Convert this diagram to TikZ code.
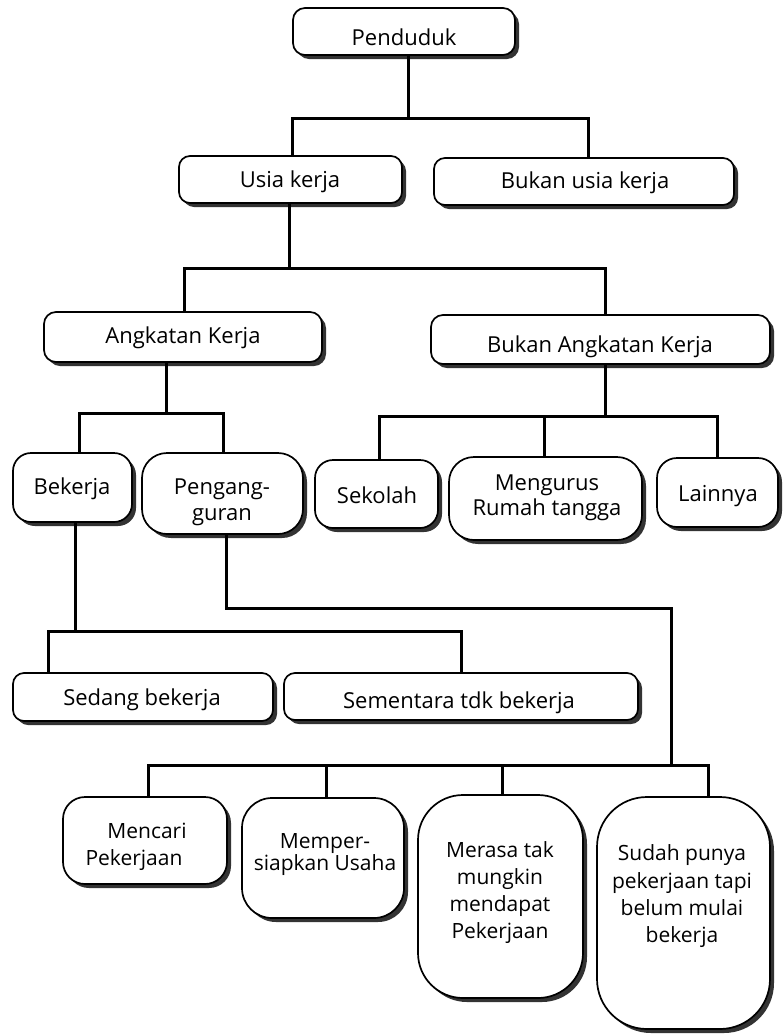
\documentclass[tikz,border=0pt]{standalone}
\usepackage{fontspec}
\setmainfont{Open Sans}
\usetikzlibrary{shadows}
\begin{document}
\begin{tikzpicture}[x=1pt,y=-1pt,
  box/.style={draw=black, line width=1.7pt, fill=white, rounded corners=#1, inner sep=0pt, outer sep=0pt,
    drop shadow={shadow xshift=4pt, shadow yshift=-4pt, opacity=1, fill=black!80}},
  box/.default=12pt,
  conn/.style={line width=3pt, line join=miter},
  txt/.style={anchor=base, inner sep=0pt, font=\fontsize{22}{26}\selectfont},
  stxt/.style={anchor=base, inner sep=0pt, font=\fontsize{21}{26}\selectfont},
]
\fill[white] (0,0) rectangle (783,1034);
\useasboundingbox (0,0) rectangle (783,1034);

% boxes
\node[box=12pt, minimum width=222pt, minimum height=47pt] (pend) at (404,31.5) {};
\node[box=11pt, minimum width=223pt, minimum height=47pt] (usia) at (290.5,179.5) {};
\node[box=11pt, minimum width=300pt, minimum height=47pt] (bukanusia) at (584,181.5) {};
\node[box=12pt, minimum width=278pt, minimum height=50pt] (ak) at (183,337) {};
\node[box=12pt, minimum width=339pt, minimum height=49pt] (bak) at (600.5,339.5) {};
\node[box=18pt, minimum width=119pt, minimum height=69pt] (bekerja) at (72.5,487.5) {};
\node[box=25pt, minimum width=161pt, minimum height=81pt] (peng) at (222.5,493.5) {};
\node[box=18pt, minimum width=123pt, minimum height=68pt] (sekolah) at (376.5,494) {};
\node[box=25pt, minimum width=193pt, minimum height=83pt] (mengurus) at (545.5,498.5) {};
\node[box=20pt, minimum width=121pt, minimum height=69pt] (lainnya) at (717.5,492.5) {};
\node[box=11pt, minimum width=260pt, minimum height=48pt] (sedang) at (143,697) {};
\node[box=11pt, minimum width=354pt, minimum height=47pt] (sementara) at (461,696.5) {};
\node[box=22pt, minimum width=164pt, minimum height=87pt] (mencari) at (145,840.5) {};
\node[box=30pt, minimum width=162pt, minimum height=120pt] (memper) at (323,858) {};
\node[box=45pt, minimum width=165pt, minimum height=203pt] (merasa) at (500.5,896.5) {};
\node[box=50pt, minimum width=173pt, minimum height=232pt] (sudah) at (683.5,913) {};

% texts
\node[txt] (tpend) at (404,45) {Penduduk};
\node[txt] (tusia) at (290,187) {Usia kerja};
\node[txt] (tbusia) at (585,188) {Bukan usia kerja};
\node[txt] (tak) at (183,343) {Angkatan Kerja};
\node[txt] (tbak) at (600,352) {Bukan Angkatan Kerja};
\node[txt] (tbek) at (72,494) {Bekerja};
\node[txt] (tpeng1) at (222,494) {Pengang-};
\node[txt] (tpeng2) at (222,520) {guran};
\node[txt] (tsek) at (377,503) {Sekolah};
\node[txt] (tmeng1) at (547,490) {Mengurus};
\node[txt] (tmeng2) at (547,515) {Rumah tangga};
\node[txt] (tlain) at (718,501) {Lainnya};
\node[txt] (tsed) at (142,705) {Sedang bekerja};
\node[txt] (tsem) at (459,708) {Sementara tdk bekerja};
\node[stxt] (tmc1) at (147,838) {Mencari};
\node[stxt] (tmc2) at (134,865) {Pekerjaan};
\node[stxt] (tmp1) at (325,848) {Memper-};
\node[stxt] (tmp2) at (325,870) {siapkan Usaha};
\node[stxt] (tmr1) at (500,857) {Merasa tak};
\node[stxt] (tmr2) at (500,884) {mungkin};
\node[stxt] (tmr3) at (500,911) {mendapat};
\node[stxt] (tmr4) at (500,938) {Pekerjaan};
\node[stxt] (tsd1) at (682,860) {Sudah punya};
\node[stxt] (tsd2) at (682,888) {pekerjaan tapi};
\node[stxt] (tsd3) at (682,915) {belum mulai};
\node[stxt] (tsd4) at (682,942) {bekerja};

% junctions
\coordinate (j1) at (408,118); \coordinate (j1l) at (292,118); \coordinate (j1r) at (588,118);
\coordinate (j2) at (289,268); \coordinate (j2l) at (184,268); \coordinate (j2r) at (605,268);
\coordinate (j3) at (166,413); \coordinate (j3l) at (79,413); \coordinate (j3r) at (223,413);
\coordinate (j4) at (605,416); \coordinate (j4l) at (379,416); \coordinate (j4m) at (544,416); \coordinate (j4r) at (717,416);
\coordinate (j5) at (75,631); \coordinate (j5l) at (48,631); \coordinate (j5r) at (461,631);
\coordinate (j6a) at (226,608); \coordinate (j6b) at (671,608); \coordinate (j6) at (671,765);
\coordinate (j6l) at (148,765); \coordinate (j6m1) at (326,765); \coordinate (j6m2) at (502,765); \coordinate (j6r) at (708,765);

% connectors
\draw[conn] (pend.south -| j1) -- (j1);
\draw[conn] (usia.north -| j1l) -- (j1l) -- (j1r) -- (bukanusia.north -| j1r);
\draw[conn] (usia.south -| j2) -- (j2);
\draw[conn] (ak.north -| j2l) -- (j2l) -- (j2r) -- (bak.north -| j2r);
\draw[conn] (ak.south -| j3) -- (j3);
\draw[conn] (bekerja.north -| j3l) -- (j3l) -- (j3r) -- (peng.north -| j3r);
\draw[conn] (bak.south -| j4) -- (j4);
\draw[conn] (sekolah.north -| j4l) -- (j4l) -- (j4r) -- (lainnya.north -| j4r);
\draw[conn] (mengurus.north -| j4m) -- (j4m);
\draw[conn] (bekerja.south -| j5) -- (j5);
\draw[conn] (sedang.north -| j5l) -- (j5l) -- (j5r) -- (sementara.north -| j5r);
\draw[conn] (peng.south -| j6a) -- (j6a) -- (j6b) -- (j6);
\draw[conn] (mencari.north -| j6l) -- (j6l) -- (j6r) -- (sudah.north -| j6r);
\draw[conn] (memper.north -| j6m1) -- (j6m1);
\draw[conn] (merasa.north -| j6m2) -- (j6m2);
\end{tikzpicture}
\end{document}
